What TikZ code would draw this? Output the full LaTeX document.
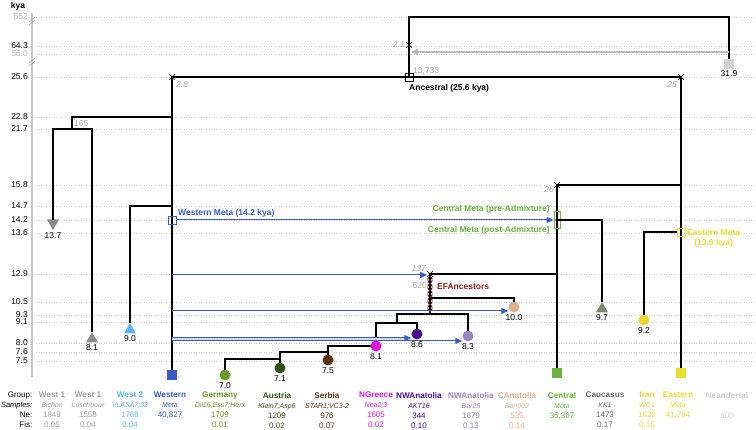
\documentclass[tikz,border=0pt]{standalone}
\usepackage{fontspec}
\setmainfont{Liberation Sans}
\usetikzlibrary{positioning, arrows.meta, shapes.geometric, shapes.misc}

\definecolor{westone}{HTML}{8C8C8C}
\definecolor{westonetxt}{HTML}{A0A0A0}
\definecolor{westtwo}{HTML}{5AB4F0}
\definecolor{western}{HTML}{3A5BC6}
\definecolor{germany}{HTML}{6A9A20}
\definecolor{austria}{HTML}{2C5218}
\definecolor{serbia}{HTML}{5A3210}
\definecolor{ngreece}{HTML}{E010DC}
\definecolor{nwanatA}{HTML}{4A0A90}
\definecolor{nwanatB}{HTML}{9A86C4}
\definecolor{canatolia}{HTML}{DEB08C}
\definecolor{central}{HTML}{6AB43C}
\definecolor{caucasus}{HTML}{7C8A6C}
\definecolor{caucasustxt}{HTML}{6A6A6A}
\definecolor{iran}{HTML}{F0D232}
\definecolor{eastern}{HTML}{E8DC2C}
\definecolor{neander}{HTML}{D0D0D0}
\definecolor{efred}{HTML}{8C2222}
\newcommand{\popcol}[4]{{\fontsize{8.2}{10}\selectfont\bfseries #1}\\{\fontsize{7}{10}\selectfont\itshape #2}\\#3\\#4}

\begin{document}
\begin{tikzpicture}[
        x=1pt,
        y=-1pt,
        every node/.style={font=\fontsize{8.5}{10}\selectfont, inner sep=1pt},
        bold/.style={font=\fontsize{8.5}{10}\selectfont\bfseries},
        tree/.style={line width=1.3pt, line cap=rect},
        gridline/.style={gray!35, dotted, line width=.5pt},
        flow/.style={western, line width=1pt, -{Triangle[length=7pt, width=6pt]}},
        xmark/.style={cross out, draw, minimum size=5pt, inner sep=0pt, line width=.7pt},
        sqmark/.style={rectangle, fill, minimum size=10pt, inner sep=0pt},
        dotmark/.style={circle, fill, minimum size=11pt, inner sep=0pt},
        upmark/.style={regular polygon, regular polygon sides=3, fill, minimum size=14pt, inner sep=0pt},
        downmark/.style={upmark, shape border rotate=180},
        metabox/.style={rectangle, draw, line width=.8pt, minimum size=8pt, inner sep=0pt},
        efring/.style={ellipse, draw=efred, line width=.6pt, minimum width=4.5pt, minimum height=7pt, inner sep=0pt},
        leaf/.style={label={[text=black, inner sep=0pt, label distance=1.5pt]below:#1}},
        note/.style={text=gray!70, font=\fontsize{8.5}{10}\selectfont\itshape},
        noteup/.style={text=gray!70},
        axtick/.style={anchor=east},
        col/.style={align=center, anchor=north, font=\fontsize{8}{10}\selectfont}
    ]
    \useasboundingbox (0,0) rectangle (756,430);

    % time axis
    \node[bold] (kya) at (18,6) {kya};
    \draw[gray!45, line width=1.6pt] (32,13) -- (32,377);
    \draw[gray!60, line width=.6pt] (29,22) -- (35,17) (29,25) -- (35,20);
    \draw[gray!60, line width=.6pt] (29,63) -- (35,58) (29,66) -- (35,61);
    \node[axtick, text=gray!60] (k552) at (29,17) {552};
    \node[axtick] (k643) at (29,46) {64.3};
    \node[axtick, text=gray!60] (k560) at (29,54) {56.0};
    \node[axtick] (k256) at (29,77) {25.6};
    \node[axtick] (k228) at (29,117) {22.8};
    \node[axtick] (k217) at (29,129) {21.7};
    \node[axtick] (k158) at (29,185) {15.8};
    \node[axtick] (k147) at (29,206) {14.7};
    \node[axtick] (k142) at (29,220) {14.2};
    \node[axtick] (k136) at (29,233) {13.6};
    \node[axtick] (k129) at (29,274) {12.9};
    \node[axtick] (k105) at (29,302) {10.5};
    \node[axtick] (k93) at (29,315) {9.3};
    \node[axtick] (k91) at (29,322) {9.1};
    \node[axtick] (k80) at (29,343) {8.0};
    \node[axtick] (k76) at (29,352) {7.6};
    \node[axtick] (k75) at (29,361) {7.5};
    \draw[gridline] (36,17) -- (756,17) (36,46) -- (756,46) (36,54) -- (756,54)
        (36,77) -- (756,77) (36,117) -- (756,117) (36,129) -- (756,129)
        (36,185) -- (756,185) (36,206) -- (756,206) (36,220) -- (756,220)
        (36,233) -- (756,233) (36,274) -- (756,274) (36,302) -- (756,302)
        (36,315) -- (756,315) (36,322) -- (756,322) (36,343) -- (756,343)
        (36,352) -- (756,352) (36,361) -- (756,361);

    % Neandertal and ancestral split
    \node[xmark] (x21) at (409,45) {};
    \node[metabox] (anc) at (409,77) {};
    \node[sqmark, neander, leaf=31.9] (nea) at (729,64) {};
    \coordinate (ntop) at (409,17);
    \coordinate (nflow) at (729,52);
    \coordinate (nflowend) at (411,52);
    \draw[tree] (anc.center) -- (ntop) -| (nea);
    \draw[gray!55, line width=1.4pt, -{Triangle[length=7pt, width=6.5pt]}] (nflow) -- (nflowend);
    \node[note, anchor=east] at (406,45) {2.1};
    \node[noteup, anchor=south west] at (412,76) {13,733};
    \node[bold, anchor=north west] (anclab) at (408,83) {Ancestral (25.6 kya)};

    \node[xmark] (w0) at (172,77) {};
    \node[xmark] (e0) at (681,77) {};
    \draw[tree] (w0.center) -- (e0.center);
    \node[note, anchor=west] at (175,85) {2.8};
    \node[note, anchor=east] at (678,85) {25};

    % western branch
    \node[sqmark, western] (wsq) at (172,375) {};
    \draw[tree] (w0.center) -- (wsq);
    \coordinate (w165) at (172,117);
    \coordinate (b165) at (72,129);
    \node[downmark, westone, leaf=13.7] (tri1) at (53,223) {};
    \node[upmark, westone, leaf=8.1] (tri2) at (92,339) {};
    \draw[tree] (w165) -| (b165);
    \draw[tree] (tri1) |- (b165) -| (tri2);
    \node[noteup, anchor=west] at (73,124) {165};
    \coordinate (w147) at (172,206);
    \node[upmark, westtwo, leaf=9.0] (tri3) at (130,330) {};
    \draw[tree] (w147) -| (tri3);
    \node[metabox, western] (wmeta) at (172,220) {};
    \node[bold, text=western, anchor=base west] (wmetalab) at (177,216) {Western Meta (14.2 kya)};

    % central branch
    \node[xmark] (c26) at (557,185) {};
    \node[sqmark, central] (csq) at (557,373) {};
    \draw[tree] (c26.center) -- (e0 |- c26);
    \draw[tree] (c26.center) -- (csq);
    \node[note, anchor=east] at (555,190) {26};
    \node[metabox, central, minimum width=6pt] (cpre) at (557,215.5) {};
    \node[metabox, central, minimum width=6pt] (cpost) at (557,224) {};
    \node[bold, text=central, anchor=east] at (551,209) {Central Meta (pre-Admixture)};
    \node[bold, text=central, anchor=east] at (551,230) {Central Meta (post-Admixture)};
    \coordinate (cadm) at (557,220);
    \node[upmark, caucasus, leaf=9.7] (cau) at (602,309) {};
    \draw[tree] (cadm) -| (cau);

    % EF ancestors
    \node[xmark] (x137) at (430,274) {};
    \coordinate (efc) at (430,298);
    \coordinate (efb) at (430,314);
    \draw[tree] (x137.center) -- (c26 |- x137);
    \draw[tree] (x137.center) -- (efb);
    \node[note, anchor=east] at (427,269) {137};
    \node[noteup, anchor=east] at (428,286) {620};
    \node[efring] (ef1) at (430,280) {};
    \node[efring] (ef2) at (430,287) {};
    \node[efring] (ef3) at (430,294) {};
    \node[efring] (ef4) at (430,301) {};
    \node[efring] (ef5) at (430,308) {};
    \node[xmark, minimum size=4pt, line width=.5pt] at (ef1) {};
    \node[xmark, minimum size=4pt, line width=.5pt] at (ef2) {};
    \node[xmark, minimum size=4pt, line width=.5pt] at (ef3) {};
    \node[xmark, minimum size=4pt, line width=.5pt] at (ef4) {};
    \node[xmark, minimum size=4pt, line width=.5pt] at (ef5) {};
    \node[bold, text=efred, anchor=west] (eflab) at (436,287) {EFAncestors};

    \node[dotmark, canatolia, leaf=10.0] (can) at (514,307) {};
    \draw[tree] (efc) -| (can);
    \coordinate (b314) at (397,314);
    \coordinate (b323) at (397,323);
    \coordinate (b86) at (417,323);
    \node[dotmark, nwanatB, leaf=8.3] (ngl) at (468,336) {};
    \node[dotmark, nwanatA, leaf=8.6] (ngd) at (417,334) {};
    \node[dotmark, ngreece, leaf=8.1] (ngr) at (376,346) {};
    \draw[tree] (b314) -| (ngl);
    \draw[tree] (b314) -- (b323);
    \draw[tree] (ngr) |- (b86) -- (ngd);

    \node[dotmark, serbia, leaf=7.5] (srb) at (328,360) {};
    \node[dotmark, austria, leaf=7.1] (aus) at (280,368) {};
    \node[dotmark, germany, leaf=7.0] (ger) at (225,375) {};
    \coordinate (b71) at (328,352);
    \coordinate (b70) at (280,359);
    \draw[tree] (ngr) -| (srb);
    \draw[tree] (b71) -| (aus);
    \draw[tree] (b70) -| (ger);

    % eastern branch
    \node[sqmark, eastern] (esq) at (681,373) {};
    \draw[tree] (e0.center) -- (esq);
    \node[metabox, eastern] (emeta) at (681,232) {};
    \node[dotmark, iran, leaf=9.2] (irn) at (644,320) {};
    \draw[tree] (emeta) -| (irn);
    \node[bold, text=eastern, align=center, anchor=west] (emetalab) at (686,238) {Eastern Meta\\(13.6 kya)};

    % Western Meta gene flow
    \coordinate (wf2) at (172,275);
    \coordinate (wf3) at (172,311);
    \coordinate (wf4) at (172,338);
    \coordinate (wf5) at (172,341);
    \fill[western!25] (wf4) rectangle (ngd.west |- wf5);
    \draw[flow] (wmeta) -- (wmeta -| cpre.west);
    \draw[flow] (wf2) -- (x137.west |- wf2);
    \draw[flow] (wf3) -- (wf3 -| can.west);
    \draw[flow] (wf4) -- (wf4 -| ngd.west);
    \draw[flow] (wf5) -- (wf5 -| ngl.west);

    % sample table
    \node[col, align=right, anchor=north east, inner sep=.5pt] (rows) at (33,391) {Group:\\{\fontsize{7.5}{10}\selectfont\itshape Samples:}\\Ne:\\Fis:};
    \node[col, text=westonetxt] (p1) at (52,391) {\popcol{West 1}{Bichon}{1849}{0.05}};
    \node[col, text=westonetxt] (p2) at (88,391) {\popcol{West 1}{Loschbour}{1558}{0.04}};
    \node[col, text=westtwo] (p3) at (130,391) {\popcol{West 2}{VLASA7;32}{1768}{0.04}};
    \node[col, text=western] (p4) at (170,391) {\popcol{Western}{Meta}{40,827}{\strut}};
    \node[col, text=germany] (p5) at (220,391) {\popcol{Germany}{Dil16;Ess7;Herx}{1709}{0.01}};
    \node[col, text=austria] (p6) at (277,391) {\popcol{Austria}{Klein7;Asp6}{1209}{0.02}};
    \node[col, text=serbia] (p7) at (327,391) {\popcol{Serbia}{STAR1;VC3-2}{976}{0.07}};
    \node[col, text=ngreece] (p8) at (376,391) {\popcol{NGreece}{Nea2;3}{1605}{0.02}};
    \node[col, text=nwanatA] (p9) at (419,391) {\popcol{NWAnatolia}{AKT16}{344}{0.10}};
    \node[col, text=nwanatB] (p10) at (471,391) {\popcol{NWAnatolia}{Bar25}{1679}{0.13}};
    \node[col, text=canatolia] (p11) at (517,391) {\popcol{CAnatolia}{Bon002}{535}{0.14}};
    \node[col, text=central] (p12) at (562,391) {\popcol{Central}{Meta}{35,367}{\strut}};
    \node[col, text=caucasustxt] (p13) at (605,391) {\popcol{Caucasus}{KK1}{1473}{0.17}};
    \node[col, text=iran] (p14) at (647,391) {\popcol{Iran}{WC1}{1626}{0.15}};
    \node[col, text=eastern] (p15) at (678,391) {\popcol{Eastern}{Meta}{41,784}{\strut}};
    \node[col, text=neander] (p16) at (727,391) {\popcol{Neandertal}{\strut}{\textit{500}}{\strut}};
\end{tikzpicture}
\end{document}
